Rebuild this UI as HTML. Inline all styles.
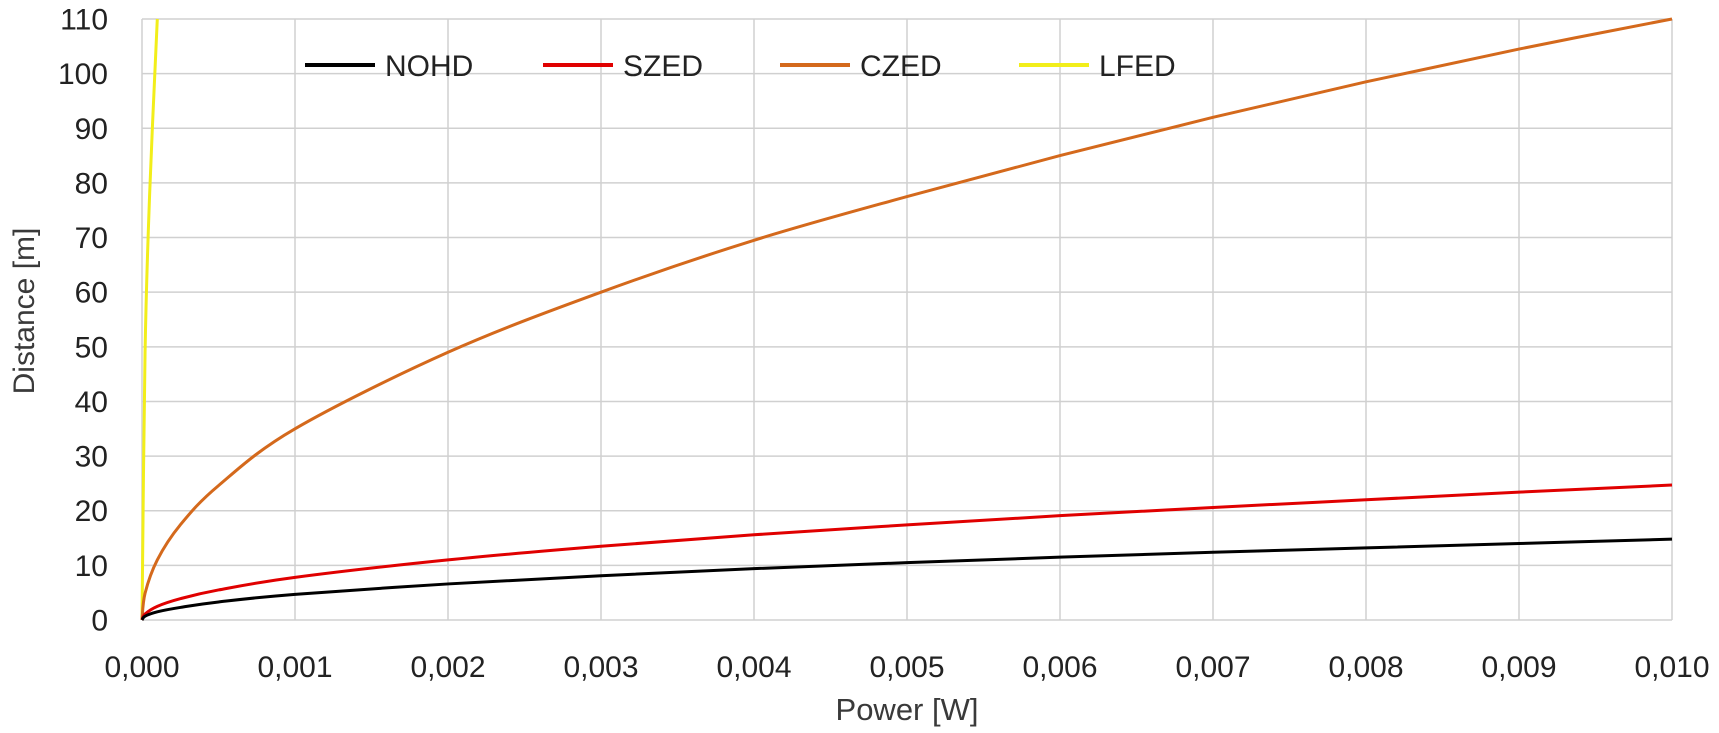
<!DOCTYPE html>
<html><head><meta charset="utf-8"><style>
html,body{margin:0;padding:0;background:#fff;}
svg{display:block;font-family:"Liberation Sans",sans-serif;}
</style></head><body>
<svg id="chart" width="1719" height="733" viewBox="0 0 1719 733">
<g id="grid"></g>
<g id="yticks"></g>
<g id="xticks"></g>
<g id="series"></g>
<text x="907" y="720" text-anchor="middle" font-size="31" fill="#3a3a3a">Power [W]</text>
<text transform="translate(34,311) rotate(-90)" text-anchor="middle" font-size="30" fill="#3a3a3a">Distance [m]</text>
<g id="legend"></g>
</svg>
<script>
const xTicks = [0,0.001,0.002,0.003,0.004,0.005,0.006,0.007,0.008,0.009,0.010];
const xTickLabels = ["0,000","0,001","0,002","0,003","0,004","0,005","0,006","0,007","0,008","0,009","0,010"];
const yTicks = [0,10,20,30,40,50,60,70,80,90,100,110];
const powers = [0,0.00002,0.0001,0.00025,0.0005,0.001,0.002,0.003,0.004,0.005,0.006,0.007,0.008,0.009,0.010];
const nohd = [0,0.7,1.5,2.3,3.3,4.7,6.6,8.1,9.4,10.5,11.5,12.4,13.2,14.0,14.8];
const szed = [0,1.1,2.5,3.9,5.5,7.8,11.0,13.5,15.6,17.4,19.1,20.6,22.0,23.4,24.7];
const czed = [0,4.9,11.0,17.4,24.6,35.0,49.0,60.0,69.5,77.5,85.0,92.0,98.5,104.5,110.0];
const lfedPowers = [0,0.00002,0.00005,0.0001];
const lfed = [0,49,78,110];
const seriesNames = ["NOHD","SZED","CZED","LFED"];
const seriesColors = ["#000000","#e00000","#d4691c","#f2ee1a"];

const X0=142,X1=1672,Y0=620,Y1=19;
const xs=v=>X0+(v-0)/(0.010)*(X1-X0);
const ys=v=>Y0-(v/110)*(Y0-Y1);
const NS="http://www.w3.org/2000/svg";
function mk(tag,attrs,parent){const e=document.createElementNS(NS,tag);for(const k in attrs)e.setAttribute(k,attrs[k]);parent.appendChild(e);return e;}
const grid=document.getElementById('grid'),yt=document.getElementById('yticks'),xt=document.getElementById('xticks');
yTicks.forEach(v=>{
  const l=mk('line',{x1:X0,x2:X1,y1:ys(v),y2:ys(v),stroke:'#d0d0d0','stroke-width':1.5},grid);
  
  
  const t=mk('text',{x:108,y:ys(v)+10.5,'text-anchor':'end','font-size':30,fill:'#222'},yt);
  t.textContent=v;
  
  
});
xTicks.forEach((v,i)=>{
  const l=mk('line',{x1:xs(v),x2:xs(v),y1:Y1,y2:Y0,stroke:'#d0d0d0','stroke-width':1.5},grid);
  
  
  const t=mk('text',{x:xs(v),y:677,'text-anchor':'middle','font-size':30,fill:'#222'},xt);
  t.textContent=xTickLabels[i];
  
  
});
function pathFor(px,py){
  const P=px.map((x,i)=>[xs(x),ys(py[i])]);
  let d='M'+P[0][0]+','+P[0][1];
  for(let i=0;i<P.length-1;i++){
    const p0=P[Math.max(0,i-1)],p1=P[i],p2=P[i+1],p3=P[Math.min(P.length-1,i+2)];
    const c1=[p1[0]+(p2[0]-p0[0])/6,p1[1]+(p2[1]-p0[1])/6];
    const c2=[p2[0]-(p3[0]-p1[0])/6,p2[1]-(p3[1]-p1[1])/6];
    d+=' C'+c1+' '+c2+' '+p2;
  }
  return d;
}
const sg=document.getElementById('series');
const data=[[powers,nohd],[powers,szed],[powers,czed],[lfedPowers,lfed]];
[3,2,1,0].forEach(i=>{
  const p=mk('path',{d:pathFor(data[i][0],data[i][1]),fill:'none',stroke:seriesColors[i],'stroke-width':3,'stroke-linejoin':'round'},sg);
  
  
});
const lg=document.getElementById('legend');
const legX=[305,543,780,1019];
seriesNames.forEach((n,i)=>{
  const g=mk('g',{},lg);
  
  
  mk('line',{x1:legX[i],x2:legX[i]+70,y1:65,y2:65,stroke:seriesColors[i],'stroke-width':4},g);
  const t=mk('text',{x:legX[i]+80,y:76,'font-size':30,fill:'#222'},g);
  t.textContent=n;
});
</script>
</body></html>
